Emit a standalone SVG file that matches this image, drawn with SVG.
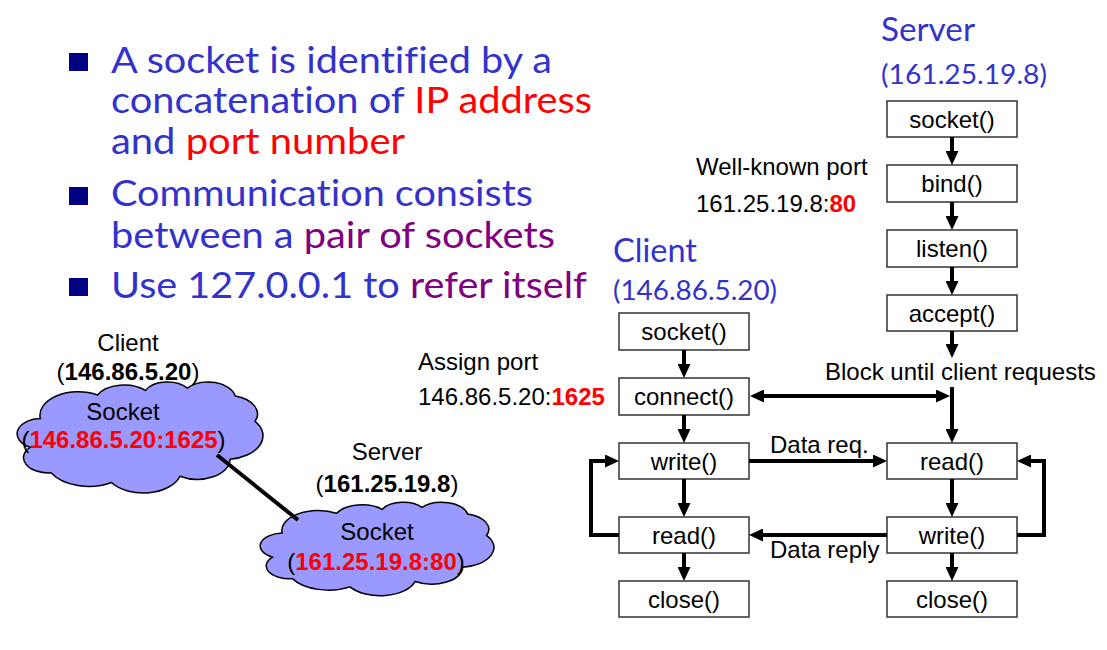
<svg xmlns="http://www.w3.org/2000/svg" width="1107" height="650" viewBox="0 0 1107 650">
<style>
.bt{font-family:Lato,"Open Sans","Noto Sans",sans-serif;font-size:36px;fill:#3333CC;font-variant-ligatures:none}
.red{fill:#FF0000}
.pur{fill:#800080}
.big{font-family:Lato,"Open Sans","Noto Sans",sans-serif;fill:#3333CC}
.t{font-family:"Liberation Sans",Arial,sans-serif;font-size:24px;fill:#000}
.c{text-anchor:middle}
.b{font-weight:bold}
.box{fill:#fff;stroke:#333;stroke-width:1.5}
.cl{fill:#9999FF;stroke:#000;stroke-width:1.5;vector-effect:non-scaling-stroke}
.ar{fill:none;stroke:#000;stroke-width:4;stroke-linejoin:miter}
</style>
<defs>
<marker id="ah" markerUnits="userSpaceOnUse" viewBox="0 0 14 13" markerWidth="14" markerHeight="13" refX="8" refY="6.5" orient="auto-start-reverse">
<path d="M0,0 L14,6.5 L0,13 Z" fill="#000"/>
</marker>
<path id="cloud" class="cl" d="M3900,14370 A6753,9190 0 0 1 14006,5203 A5333,7267 0 0 1 22457,3433 A4365,5945 0 0 1 29834,2483 A4857,6595 0 0 1 38319,5578 A5333,7273 0 0 1 41820,15462 A6775,9220 0 0 1 37405,30204 A5785,7867 0 0 1 28557,36814 A6752,9215 0 0 1 16483,39267 A7720,10543 0 0 1 5806,35473 A4360,5918 0 0 1 2115,25551 A4345,5945 0 0 1 3900,14370 Z"/>
</defs>
<rect width="1107" height="650" fill="#fff"/>

<g id="bullets">
<rect x="69" y="53" width="19" height="18" fill="#000080"/>
<rect x="69" y="187" width="19" height="18" fill="#000080"/>
<rect x="69" y="278" width="19" height="18" fill="#000080"/>
<text class="bt" x="111" y="73" textLength="441" lengthAdjust="spacingAndGlyphs">A socket is identified by a</text>
<text class="bt" x="111" y="113" textLength="481" lengthAdjust="spacingAndGlyphs">concatenation of <tspan class="red">IP address</tspan></text>
<text class="bt" x="111" y="154" textLength="294" lengthAdjust="spacingAndGlyphs">and <tspan class="red">port number</tspan></text>
<text class="bt" x="111" y="206" textLength="422" lengthAdjust="spacingAndGlyphs">Communication consists</text>
<text class="bt" x="111" y="248" textLength="444" lengthAdjust="spacingAndGlyphs">between a <tspan class="pur">pair of sockets</tspan></text>
<text class="bt" x="111" y="298" textLength="476" lengthAdjust="spacingAndGlyphs">Use 127.0.0.1 to <tspan class="pur">refer itself</tspan></text>
</g>

<g id="client-cloud">
<text class="t c" x="128" y="351">Client</text>
<text class="t c" x="128" y="380">(<tspan class="b">146.86.5.20</tspan>)</text>
<use href="#cloud" transform="translate(18.19,381.64) scale(0.005664,0.002569)"/>
<text class="t c" x="123" y="420">Socket</text>
<text class="t c" x="123.5" y="448">(<tspan class="b red">146.86.5.20:1625</tspan>)</text>
</g>

<g id="server-cloud">
<text class="t c" x="387" y="460">Server</text>
<text class="t c" x="387" y="492">(<tspan class="b">161.25.19.8</tspan>)</text>
<use href="#cloud" transform="translate(261.18,501.99) scale(0.005387,0.002161)"/>
<text class="t c" x="377" y="540">Socket</text>
<text class="t c" x="376" y="570">(<tspan class="b red">161.25.19.8:80</tspan>)</text>
</g>

<g id="cloud-link">
<line x1="217" y1="455" x2="298" y2="520" stroke="#000" stroke-width="4"/>
</g>

<g id="labels">
<text class="big" x="881" y="41" font-size="32" textLength="94" lengthAdjust="spacingAndGlyphs">Server</text>
<text class="big" x="881" y="84" font-size="26" textLength="166" lengthAdjust="spacingAndGlyphs">(161.25.19.8)</text>
<text class="big" x="613" y="262" font-size="32" textLength="84" lengthAdjust="spacingAndGlyphs">Client</text>
<text class="big" x="613" y="300" font-size="26" textLength="164" lengthAdjust="spacingAndGlyphs">(146.86.5.20)</text>
<text class="t" x="696" y="175">Well-known port</text>
<text class="t" x="696" y="212">161.25.19.8:<tspan class="b red">80</tspan></text>
<text class="t" x="418" y="370">Assign port</text>
<text class="t" x="418" y="405">146.86.5.20:<tspan class="b red">1625</tspan></text>
<text class="t" x="825" y="380">Block until client requests</text>
<text class="t" x="770" y="453">Data req.</text>
<text class="t" x="770" y="558">Data reply</text>
</g>

<g id="c-socket"><rect class="box" x="619" y="313" width="130" height="37"/><text class="t c" x="684" y="340">socket()</text></g>
<g id="c-connect"><rect class="box" x="619" y="378" width="130" height="37"/><text class="t c" x="684" y="405">connect()</text></g>
<g id="c-write"><rect class="box" x="619" y="443" width="130" height="36"/><text class="t c" x="684" y="470">write()</text></g>
<g id="c-read"><rect class="box" x="619" y="517" width="130" height="36"/><text class="t c" x="684" y="544">read()</text></g>
<g id="c-close"><rect class="box" x="619" y="581" width="130" height="36"/><text class="t c" x="684" y="608">close()</text></g>

<g id="s-socket"><rect class="box" x="887" y="101" width="130" height="36"/><text class="t c" x="952" y="128">socket()</text></g>
<g id="s-bind"><rect class="box" x="887" y="165" width="130" height="37"/><text class="t c" x="952" y="192">bind()</text></g>
<g id="s-listen"><rect class="box" x="887" y="230" width="130" height="37"/><text class="t c" x="952" y="257">listen()</text></g>
<g id="s-accept"><rect class="box" x="887" y="295" width="130" height="36"/><text class="t c" x="952" y="322">accept()</text></g>
<g id="s-read"><rect class="box" x="887" y="443" width="130" height="36"/><text class="t c" x="952" y="470">read()</text></g>
<g id="s-write"><rect class="box" x="887" y="517" width="130" height="36"/><text class="t c" x="952" y="544">write()</text></g>
<g id="s-close"><rect class="box" x="887" y="581" width="130" height="36"/><text class="t c" x="952" y="608">close()</text></g>

<g id="connectors" class="ar">
<path class="ar" d="M684,350 V372" marker-end="url(#ah)"/>
<path class="ar" d="M684,415 V437" marker-end="url(#ah)"/>
<path class="ar" d="M684,479 V511" marker-end="url(#ah)"/>
<path class="ar" d="M684,553 V575" marker-end="url(#ah)"/>
<path class="ar" d="M952,137 V159" marker-end="url(#ah)"/>
<path class="ar" d="M952,202 V224" marker-end="url(#ah)"/>
<path class="ar" d="M952,267 V289" marker-end="url(#ah)"/>
<path class="ar" d="M952,331 V352" marker-end="url(#ah)"/>
<path class="ar" d="M952,387 V437" marker-end="url(#ah)"/>
<path class="ar" d="M952,479 V511" marker-end="url(#ah)"/>
<path class="ar" d="M952,553 V575" marker-end="url(#ah)"/>
<path class="ar" d="M756,396 H944" marker-start="url(#ah)" marker-end="url(#ah)"/>
<path class="ar" d="M749,461 H881" marker-end="url(#ah)"/>
<path class="ar" d="M887,535 H755" marker-end="url(#ah)"/>
<path class="ar" d="M619,535 H591 V461 H613" marker-end="url(#ah)"/>
<path class="ar" d="M1017,535 H1044 V461 H1023" marker-end="url(#ah)"/>
</g>
</svg>
